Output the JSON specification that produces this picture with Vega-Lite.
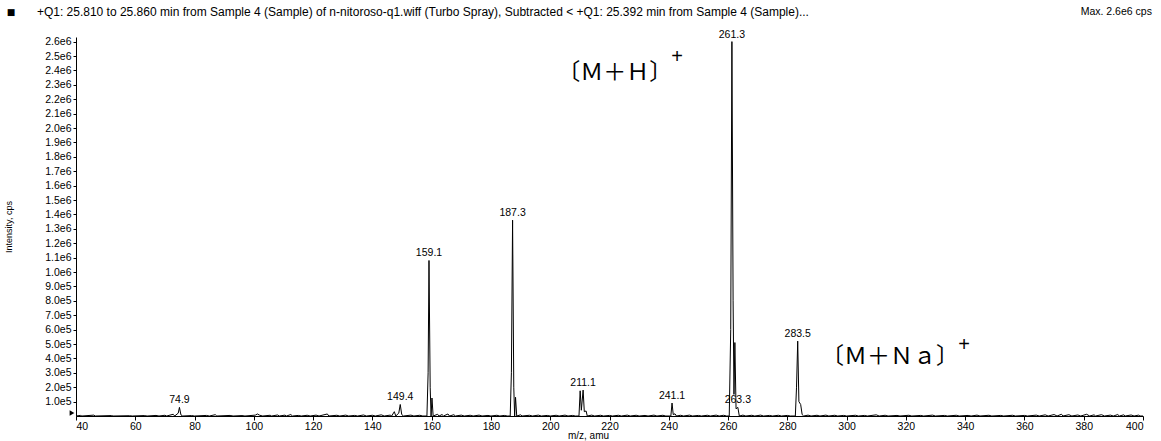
{
  "$schema": "https://vega.github.io/schema/vega-lite/v6.json",
  "width": 1067,
  "height": 379,
  "autosize": {"type": "none"},
  "padding": {"left": 76, "top": 37, "right": 18, "bottom": 25},
  "background": "white",
  "config": {
    "view": {"stroke": null},
    "font": "Liberation Sans",
    "axis": {
      "grid": false,
      "domainColor": "black",
      "tickColor": "black",
      "labelColor": "black",
      "titleColor": "black",
      "labelFont": "Liberation Sans",
      "titleFont": "Liberation Sans",
      "labelFontSize": 10.5,
      "titleFontSize": 9,
      "titleFontWeight": "normal"
    }
  },
  "datasets": {
    "spec": [
      {"mz": 40, "i": 0}, {"mz": 41.5, "i": 4000}, {"mz": 42, "i": 0}, {"mz": 46, "i": 6000}, {"mz": 46.5, "i": 0},
      {"mz": 52, "i": 3000}, {"mz": 52.5, "i": 0}, {"mz": 58, "i": 2000}, {"mz": 59, "i": 0}, {"mz": 63, "i": 3000},
      {"mz": 64, "i": 0}, {"mz": 67, "i": 4000}, {"mz": 68, "i": 0}, {"mz": 70, "i": 5000}, {"mz": 70.6, "i": 0},
      {"mz": 72.8, "i": 12000}, {"mz": 73.3, "i": 0}, {"mz": 74.5, "i": 20000}, {"mz": 74.9, "i": 60000}, {"mz": 75.4, "i": 8000},
      {"mz": 76, "i": 0}, {"mz": 79, "i": 3000}, {"mz": 80, "i": 0}, {"mz": 84, "i": 4000}, {"mz": 85, "i": 0},
      {"mz": 87, "i": 9000}, {"mz": 87.5, "i": 0}, {"mz": 92, "i": 4000}, {"mz": 93, "i": 0}, {"mz": 96, "i": 3000},
      {"mz": 97, "i": 0}, {"mz": 100.5, "i": 6000}, {"mz": 101.2, "i": 14000}, {"mz": 102, "i": 5000}, {"mz": 103, "i": 0},
      {"mz": 105.5, "i": 5000}, {"mz": 106, "i": 0}, {"mz": 108, "i": 7000}, {"mz": 108.6, "i": 0}, {"mz": 110.5, "i": 6000},
      {"mz": 111, "i": 0}, {"mz": 112.5, "i": 10000}, {"mz": 113, "i": 0}, {"mz": 115, "i": 4000}, {"mz": 116, "i": 0},
      {"mz": 118, "i": 5000}, {"mz": 119, "i": 0}, {"mz": 121, "i": 6000}, {"mz": 122, "i": 0}, {"mz": 124.8, "i": 14000},
      {"mz": 125.3, "i": 0}, {"mz": 128, "i": 5000}, {"mz": 129, "i": 0}, {"mz": 131, "i": 6000}, {"mz": 132, "i": 0},
      {"mz": 134, "i": 4000}, {"mz": 135, "i": 0}, {"mz": 137, "i": 7000}, {"mz": 138, "i": 0}, {"mz": 140, "i": 5000},
      {"mz": 141, "i": 0}, {"mz": 143, "i": 8000}, {"mz": 144, "i": 0}, {"mz": 146, "i": 6000}, {"mz": 146.5, "i": 0},
      {"mz": 147.4, "i": 30000}, {"mz": 147.9, "i": 0}, {"mz": 148.9, "i": 20000}, {"mz": 149.4, "i": 80000}, {"mz": 149.9, "i": 10000},
      {"mz": 150.5, "i": 0}, {"mz": 153, "i": 6000}, {"mz": 154, "i": 0}, {"mz": 156, "i": 5000}, {"mz": 157, "i": 0},
      {"mz": 158.4, "i": 0}, {"mz": 158.8, "i": 300000}, {"mz": 159.1, "i": 1080000}, {"mz": 159.5, "i": 200000}, {"mz": 159.8, "i": 0},
      {"mz": 160.1, "i": 125000}, {"mz": 160.5, "i": 0}, {"mz": 162, "i": 12000}, {"mz": 162.5, "i": 0}, {"mz": 163.5, "i": 10000},
      {"mz": 164, "i": 0}, {"mz": 165.5, "i": 14000}, {"mz": 166, "i": 0}, {"mz": 167.5, "i": 9000}, {"mz": 168, "i": 0},
      {"mz": 170, "i": 6000}, {"mz": 171, "i": 0}, {"mz": 173, "i": 5000}, {"mz": 174, "i": 0}, {"mz": 176, "i": 6000},
      {"mz": 177, "i": 0}, {"mz": 179, "i": 4000}, {"mz": 180, "i": 0}, {"mz": 182, "i": 5000}, {"mz": 183, "i": 0},
      {"mz": 184.5, "i": 4000}, {"mz": 185.5, "i": 0}, {"mz": 186.5, "i": 0}, {"mz": 186.9, "i": 300000}, {"mz": 187.3, "i": 1360000},
      {"mz": 187.7, "i": 200000}, {"mz": 188.0, "i": 0}, {"mz": 188.3, "i": 130000}, {"mz": 188.7, "i": 0}, {"mz": 190, "i": 8000},
      {"mz": 190.5, "i": 0}, {"mz": 193, "i": 5000}, {"mz": 194, "i": 0}, {"mz": 196, "i": 6000}, {"mz": 197, "i": 0},
      {"mz": 199, "i": 4000}, {"mz": 200, "i": 0}, {"mz": 202, "i": 5000}, {"mz": 203, "i": 0}, {"mz": 205, "i": 6000},
      {"mz": 206, "i": 0}, {"mz": 207.5, "i": 4000}, {"mz": 208.5, "i": 0}, {"mz": 209.7, "i": 0}, {"mz": 210.1, "i": 175000},
      {"mz": 210.5, "i": 40000}, {"mz": 211.1, "i": 180000}, {"mz": 211.5, "i": 30000}, {"mz": 212.1, "i": 35000}, {"mz": 212.5, "i": 0},
      {"mz": 214, "i": 6000}, {"mz": 215, "i": 0}, {"mz": 217, "i": 5000}, {"mz": 218, "i": 0}, {"mz": 220, "i": 4000},
      {"mz": 221, "i": 0}, {"mz": 223, "i": 5000}, {"mz": 224, "i": 0}, {"mz": 226, "i": 6000}, {"mz": 227, "i": 0},
      {"mz": 229, "i": 5000}, {"mz": 230, "i": 0}, {"mz": 232, "i": 4000}, {"mz": 233, "i": 0}, {"mz": 235, "i": 6000},
      {"mz": 236, "i": 0}, {"mz": 238, "i": 5000}, {"mz": 239, "i": 0}, {"mz": 240.7, "i": 0}, {"mz": 241.1, "i": 90000},
      {"mz": 241.5, "i": 10000}, {"mz": 242.1, "i": 15000}, {"mz": 242.6, "i": 0}, {"mz": 244, "i": 5000}, {"mz": 245, "i": 0},
      {"mz": 247, "i": 6000}, {"mz": 248, "i": 0}, {"mz": 250, "i": 4000}, {"mz": 251, "i": 0}, {"mz": 253, "i": 5000},
      {"mz": 254, "i": 0}, {"mz": 256, "i": 6000}, {"mz": 257, "i": 0}, {"mz": 258.5, "i": 5000}, {"mz": 259.5, "i": 0},
      {"mz": 260.4, "i": 0}, {"mz": 260.9, "i": 600000}, {"mz": 261.3, "i": 2600000}, {"mz": 261.7, "i": 800000}, {"mz": 262.0, "i": 150000},
      {"mz": 262.3, "i": 510000}, {"mz": 262.7, "i": 50000}, {"mz": 263.3, "i": 60000}, {"mz": 263.8, "i": 0}, {"mz": 265, "i": 6000},
      {"mz": 266, "i": 0}, {"mz": 268, "i": 5000}, {"mz": 269, "i": 0}, {"mz": 271, "i": 6000}, {"mz": 272, "i": 0},
      {"mz": 274, "i": 4000}, {"mz": 275, "i": 0}, {"mz": 277, "i": 5000}, {"mz": 278, "i": 0}, {"mz": 280, "i": 4000},
      {"mz": 281, "i": 0}, {"mz": 282.7, "i": 0}, {"mz": 283.1, "i": 200000}, {"mz": 283.5, "i": 520000}, {"mz": 283.9, "i": 100000},
      {"mz": 284.5, "i": 80000}, {"mz": 285, "i": 10000}, {"mz": 285.5, "i": 0}, {"mz": 287, "i": 6000}, {"mz": 288, "i": 0},
      {"mz": 290, "i": 5000}, {"mz": 291, "i": 0}, {"mz": 293, "i": 6000}, {"mz": 294, "i": 0}, {"mz": 296, "i": 5000},
      {"mz": 297, "i": 0}, {"mz": 299, "i": 4000}, {"mz": 300, "i": 0}, {"mz": 303, "i": 5000}, {"mz": 304, "i": 0},
      {"mz": 306, "i": 4000}, {"mz": 307, "i": 0}, {"mz": 310, "i": 8000}, {"mz": 311, "i": 0}, {"mz": 313, "i": 5000},
      {"mz": 314, "i": 0}, {"mz": 317, "i": 4000}, {"mz": 318, "i": 0}, {"mz": 321, "i": 5000}, {"mz": 322, "i": 0},
      {"mz": 325, "i": 4000}, {"mz": 326, "i": 0}, {"mz": 329, "i": 6000}, {"mz": 330, "i": 0}, {"mz": 333, "i": 4000},
      {"mz": 334, "i": 0}, {"mz": 337, "i": 5000}, {"mz": 338, "i": 0}, {"mz": 341, "i": 4000}, {"mz": 342, "i": 0},
      {"mz": 344, "i": 6000}, {"mz": 345, "i": 0}, {"mz": 348, "i": 5000}, {"mz": 349, "i": 0}, {"mz": 352, "i": 4000},
      {"mz": 353, "i": 0}, {"mz": 356, "i": 5000}, {"mz": 357, "i": 0}, {"mz": 360, "i": 4000}, {"mz": 361, "i": 0},
      {"mz": 364, "i": 6000}, {"mz": 365, "i": 0}, {"mz": 367, "i": 8000}, {"mz": 368, "i": 0}, {"mz": 370, "i": 10000},
      {"mz": 371, "i": 0}, {"mz": 372.5, "i": 12000}, {"mz": 373, "i": 0}, {"mz": 375, "i": 9000}, {"mz": 376, "i": 0},
      {"mz": 378, "i": 7000}, {"mz": 379, "i": 0}, {"mz": 381, "i": 12000}, {"mz": 382, "i": 0}, {"mz": 383.5, "i": 8000},
      {"mz": 384, "i": 0}, {"mz": 386, "i": 9000}, {"mz": 387, "i": 0}, {"mz": 389, "i": 6000}, {"mz": 390, "i": 0},
      {"mz": 391.5, "i": 10000}, {"mz": 392, "i": 0}, {"mz": 393.5, "i": 8000}, {"mz": 394, "i": 0}, {"mz": 396, "i": 7000},
      {"mz": 397, "i": 0}, {"mz": 398.5, "i": 6000}, {"mz": 399, "i": 0}, {"mz": 400, "i": 0}
    ],
    "peaks": [
      {"mz": 74.9, "i": 60000, "label": "74.9"},
      {"mz": 149.4, "i": 80000, "label": "149.4"},
      {"mz": 159.1, "i": 1080000, "label": "159.1"},
      {"mz": 187.3, "i": 1360000, "label": "187.3"},
      {"mz": 211.1, "i": 180000, "label": "211.1"},
      {"mz": 241.1, "i": 90000, "label": "241.1"},
      {"mz": 261.3, "i": 2600000, "label": "261.3"},
      {"mz": 263.3, "i": 60000, "label": "263.3"},
      {"mz": 283.5, "i": 520000, "label": "283.5"}
    ],
    "ions": [
      {"mz": 221.8, "i": 2382000, "label": "〔Ｍ＋Ｈ〕"},
      {"mz": 314.6, "i": 410000, "label": "〔Ｍ＋Ｎａ〕"}
    ],
    "charges": [
      {"mz": 242.8, "i": 2493000, "label": "+"},
      {"mz": 339.6, "i": 493000, "label": "+"}
    ],
    "legendbox": [
      {"mz": 18.1, "i": 2806000, "label": "■"}
    ],
    "header": [
      {"mz": 26.8, "i": 2806000, "label": "+Q1: 25.810 to 25.860 min from Sample 4 (Sample) of n-nitoroso-q1.wiff (Turbo Spray), Subtracted < +Q1: 25.392 min from Sample 4 (Sample)..."}
    ],
    "maxnote": [
      {"mz": 403, "i": 2806000, "label": "Max. 2.6e6 cps"}
    ],
    "origin": [
      {"mz": 40, "i": 0}
    ]
  },
  "encoding": {
    "x": {
      "field": "mz",
      "type": "quantitative",
      "scale": {"domain": [40, 400], "nice": false, "zero": false},
      "axis": {
        "title": "m/z, amu",
        "values": [40, 60, 80, 100, 120, 140, 160, 180, 200, 220, 240, 260, 280, 300, 320, 340, 360, 380, 400],
        "format": "d",
        "tickSize": 4,
        "labelPadding": 1,
        "titlePadding": -1,
        "titleX": 512,
        "titleFontSize": 10
      }
    },
    "y": {
      "field": "i",
      "type": "quantitative",
      "scale": {"domain": [0, 2632000], "nice": false},
      "axis": {
        "title": "Intensity, cps",
        "values": [100000, 200000, 300000, 400000, 500000, 600000, 700000, 800000, 900000, 1000000, 1100000, 1200000, 1300000, 1400000, 1500000, 1600000, 1700000, 1800000, 1900000, 2000000, 2100000, 2200000, 2300000, 2400000, 2500000, 2600000],
        "labelExpr": "replace(format(datum.value, '.1e'), '+', '')",
        "tickSize": 3,
        "labelPadding": 2,
        "titleX": -63,
        "titleFontSize": 9
      }
    }
  },
  "layer": [
    {
      "data": {"name": "spec"},
      "mark": {"type": "line", "color": "black", "strokeWidth": 1, "interpolate": "linear"},
      "encoding": {"order": {"field": "mz", "type": "quantitative"}}
    },
    {
      "data": {"name": "peaks"},
      "mark": {"type": "text", "font": "Liberation Sans", "fontSize": 10.5, "color": "black", "baseline": "bottom", "dy": -2},
      "encoding": {"text": {"field": "label"}}
    },
    {
      "data": {"name": "ions"},
      "mark": {"type": "text", "font": "Noto Sans CJK SC", "fontSize": 23, "color": "black", "baseline": "middle", "align": "center"},
      "encoding": {"text": {"field": "label"}}
    },
    {
      "data": {"name": "charges"},
      "mark": {"type": "text", "font": "Liberation Sans", "fontSize": 20, "color": "black", "baseline": "middle", "align": "center"},
      "encoding": {"text": {"field": "label"}}
    },
    {
      "data": {"name": "legendbox"},
      "mark": {"type": "text", "font": "DejaVu Sans", "fontSize": 9, "color": "black", "baseline": "middle", "align": "center"},
      "encoding": {"text": {"field": "label"}}
    },
    {
      "data": {"name": "header"},
      "mark": {"type": "text", "font": "Liberation Sans", "fontSize": 12, "color": "black", "baseline": "middle", "align": "left"},
      "encoding": {"text": {"field": "label"}}
    },
    {
      "data": {"name": "maxnote"},
      "mark": {"type": "text", "font": "Liberation Sans", "fontSize": 10.5, "color": "black", "baseline": "middle", "align": "right"},
      "encoding": {"text": {"field": "label"}}
    },
    {
      "data": {"name": "origin"},
      "mark": {"type": "point", "shape": "triangle-right", "filled": true, "color": "black", "size": 30, "opacity": 1, "xOffset": -4, "yOffset": -3}
    }
  ]
}
